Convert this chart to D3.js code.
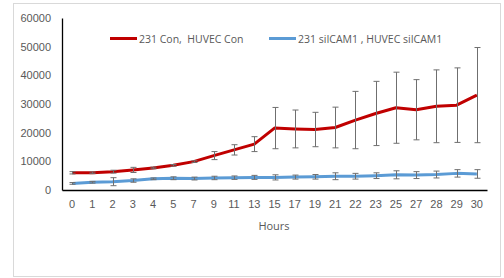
<!DOCTYPE html>
<html><head><meta charset="utf-8">
<script src="https://cdn.jsdelivr.net/npm/d3@7"></script>
<style>body{margin:0;background:#fff}svg{display:block;font-family:"Open Sans","Liberation Sans",sans-serif}text{white-space:pre}</style>
</head><body><svg id="c" width="504" height="278"></svg>
<script>
const hours = ["0","1","2","3","4","5","7","9","11","13","15","17","19","21","22","23","25","27","28","29","30"];
const conValues = [6000,6000,6400,7000,7700,8600,9900,12000,14000,16000,21600,21300,21100,21800,24400,26700,28700,28000,29200,29600,33100];
const conErrors = [400,300,500,900,300,300,300,1400,1800,2600,7200,6600,6000,7100,10000,11200,12400,10500,12700,13000,16600];
const siValues = [2300,2700,2900,3300,3900,4100,4000,4200,4300,4400,4400,4500,4600,4800,4800,5000,5300,5200,5400,5800,5600];
const siErrors = [300,300,1400,600,300,500,500,600,600,700,900,700,800,1200,1000,1000,1400,1200,1200,1300,1500];
const yTicks = [0,10000,20000,30000,40000,50000,60000];
const seriesNames = ["231 Con,  HUVEC Con","231 siICAM1 , HUVEC siICAM1"];
const colors = ["#C00000","#5B9BD5"];

const svg = d3.select("#c");
svg.append("rect").attr("x",13.5).attr("y",3.5).attr("width",487).attr("height",273)
  .attr("fill","#fff").attr("stroke","#d9d9d9");

const x = d3.scaleBand().domain(hours).range([62,487]);
const y = d3.scaleLinear().domain([0,60000]).range([190,18]);
const cx = h => x(h) + x.bandwidth()/2;

const yAxis = svg.append("g").attr("transform","translate(62,0)")
  .call(d3.axisLeft(y).tickValues(yTicks).tickSize(0).tickPadding(11).tickFormat(d3.format("d")));
yAxis.select(".domain").attr("stroke","#000").attr("stroke-width",1.3);
yAxis.selectAll("text").attr("fill","#595959").attr("font-size",11);

const xAxis = svg.append("g").attr("transform","translate(0,190)")
  .call(d3.axisBottom(x).tickSize(0).tickPadding(10));
xAxis.select(".domain").attr("stroke","#000").attr("stroke-width",1.3);
xAxis.selectAll("text").attr("fill","#595959").attr("font-size",11);

svg.append("text").attr("x",274).attr("y",229.5).attr("text-anchor","middle")
  .attr("fill","#595959").attr("font-size",11).text("Hours");

const series = [
  {vals: conValues, errs: conErrors, color: colors[0]},
  {vals: siValues, errs: siErrors, color: colors[1]}
];
const line = d3.line().x(d=>cx(d.h)).y(d=>y(d.v));
series.forEach(s=>{
  const pts = hours.map((h,i)=>({h, v:s.vals[i], e:s.errs[i]}));
  svg.append("path").datum(pts).attr("d",line).attr("fill","none")
    .attr("stroke",s.color).attr("stroke-width",3).attr("stroke-linejoin","round");
});
series.forEach(s=>{
  const pts = hours.map((h,i)=>({h, v:s.vals[i], e:s.errs[i]}));
  const g = svg.append("g").attr("stroke","#6f6f6f").attr("stroke-width",1);
  pts.forEach(p=>{
    const X = Math.round(cx(p.h))+0.5;
    const y1 = y(p.v+p.e), y2 = y(p.v-p.e);
    g.append("line").attr("x1",X).attr("x2",X).attr("y1",y1).attr("y2",y2);
    g.append("line").attr("x1",X-3).attr("x2",X+3).attr("y1",y1).attr("y2",y1);
    g.append("line").attr("x1",X-3).attr("x2",X+3).attr("y1",y2).attr("y2",y2);
  });
});

// legend
const lg = [{x:110, name:seriesNames[0], c:colors[0]},{x:269, name:seriesNames[1], c:colors[1]}];
lg.forEach(l=>{
  svg.append("line").attr("x1",l.x).attr("x2",l.x+27).attr("y1",38.5).attr("y2",38.5)
    .attr("stroke",l.c).attr("stroke-width",3);
  svg.append("text").attr("x",l.x+29).attr("y",42.5).attr("fill","#595959")
    .attr("font-size",10.5).text(l.name);
});
</script></body></html>
